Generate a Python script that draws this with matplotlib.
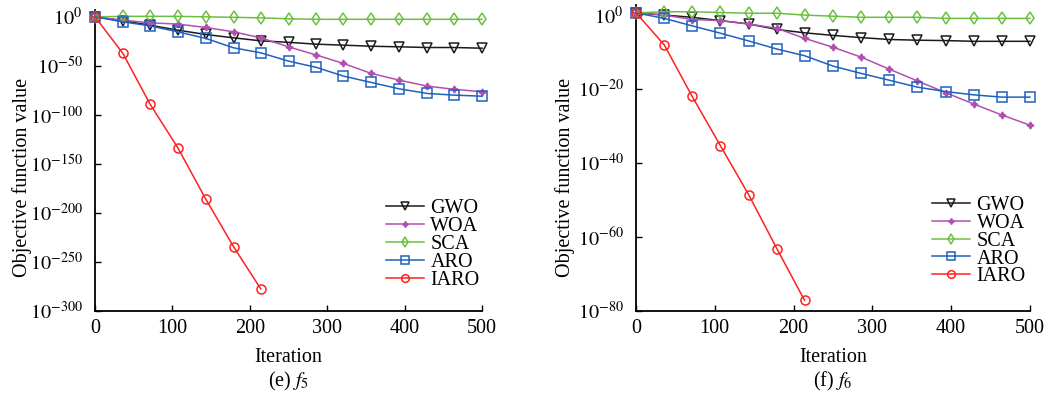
import numpy as np
import matplotlib
matplotlib.use("Agg")
import matplotlib.pyplot as plt

plt.rcParams["font.family"] = ["Liberation Serif", "DejaVu Serif"]
plt.rcParams["mathtext.fontset"] = "stix"

# iterations where markers are drawn
iters = [0, 36, 71, 107, 143, 179, 214, 250, 286, 321, 357, 393, 429, 464, 500]
iters_iaro = [0, 36, 71, 107, 143, 179, 214]

# ---- (e) f5 : log10 of objective value ----
f5_gwo = [0, -4, -8.5, -13.6, -18, -21.4, -24.5, -26, -27.9, -28.9, -30, -30.6, -31.3, -31.3, -32]
f5_woa = [0, -3.4, -6.1, -7.4, -10.8, -15.3, -21.4, -30.6, -39, -47.6, -57.8, -64.6, -70.7, -74, -76.5]
f5_sca = [0, 0.5, 0.5, 0.5, 0, -0.5, -1, -2, -2.5, -2.5, -2.5, -2.5, -2.5, -2.5, -2.5]
f5_aro = [0, -5.1, -9.2, -15.3, -22, -31.6, -36.7, -45.2, -51.6, -60.5, -67, -73.5, -78.2, -79.9, -81]
f5_iaro = [0, -37.3, -89, -133.7, -186, -234.7, -277.6]

# ---- (f) f6 ----
f6_gwo = [0.6, 0, -0.6, -1.5, -2.4, -3.9, -4.8, -5.5, -6.1, -6.6, -6.8, -6.9, -7.1, -7.1, -7.1]
f6_woa = [0.6, 0, -1.2, -1.5, -2.4, -3.6, -6.3, -8.7, -11.4, -14.6, -17.8, -21, -24.1, -27, -29.8]
f6_sca = [0.6, 0.9, 0.9, 0.7, 0.5, 0.5, 0, -0.3, -0.6, -0.6, -0.6, -0.9, -0.9, -0.9, -0.9]
f6_aro = [0.6, -0.9, -2.9, -4.9, -7, -9.2, -11, -13.8, -15.8, -17.6, -19.5, -20.7, -21.6, -22.2, -22.2]
f6_iaro = [0.6, -8.1, -21.9, -35.3, -48.6, -63.3, -77.2]

f5_yticks = [0, -50, -100, -150, -200, -250, -300]
f6_yticks = [0, -20, -40, -60, -80]

names = ["GWO", "WOA", "SCA", "ARO", "IARO"]
colors = ["#1a1a1a", "#b050b0", "#6cc040", "#2060c0", "#ff2020"]
markers = ["v", (4, 1, 0), "d", "s", "o"]

fig = plt.figure(figsize=(10.5, 3.95), dpi=100)
ax1 = fig.add_axes([0.0905, 0.2134, 0.3686, 0.7613])
ax2 = fig.add_axes([0.6057, 0.2134, 0.3752, 0.7737])


def draw(ax, series, ylim, yticks, leg_anchor):
    for (xs, ys), name, c, m in zip(series, names, colors, markers):
        filled = name == "WOA"
        ax.plot(xs, [10.0 ** v for v in ys], color=c, lw=1.1, marker=m,
                ms=5 if filled else 6.5, mfc=c if filled else "none",
                mec=c, mew=1.1, label=name, clip_on=False, zorder=3)
    ax.set_yscale("log")
    ax.set_ylim(10.0 ** ylim[0], 10.0 ** ylim[1])
    ax.set_xlim(0, 500)
    ax.set_xticks([0, 100, 200, 300, 400, 500])
    ax.set_yticks([10.0 ** t for t in yticks])
    ax.set_yticklabels([r"$10^{%d}$" % t for t in yticks])
    ax.minorticks_off()
    ax.tick_params(direction="in", labelsize=14.5, length=4.5, width=1)
    ax.tick_params(axis="y", pad=9)
    ax.tick_params(axis="x", pad=6)
    for s in ["top", "right"]:
        ax.spines[s].set_visible(False)
    for s in ["left", "bottom"]:
        ax.spines[s].set_linewidth(1.3)
    ax.legend(loc="lower right", bbox_to_anchor=leg_anchor, frameon=False,
              fontsize=14.5, handlelength=1.9, handletextpad=0.3,
              labelspacing=-0.06, borderpad=0.1, markerscale=0.85)


draw(ax1, [(iters, f5_gwo), (iters, f5_woa), (iters, f5_sca), (iters, f5_aro),
           (iters_iaro, f5_iaro)], (-300, 7), f5_yticks, (1.025, 0.03))
draw(ax2, [(iters, f6_gwo), (iters, f6_woa), (iters, f6_sca), (iters, f6_aro),
           (iters_iaro, f6_iaro)], (-80, 2.7), f6_yticks, (1.02, 0.04))

fig.text(0.2748, 0.094, "Iteration", ha="center", va="center", fontsize=14.5)
fig.text(0.7933, 0.094, "Iteration", ha="center", va="center", fontsize=14.5)
fig.text(0.2748, 0.033, r"(e) $f_5$", ha="center", va="center", fontsize=14.5)
fig.text(0.7933, 0.033, r"(f) $f_6$", ha="center", va="center", fontsize=14.5)
fig.text(0.021, 0.55, "Objective function value", rotation=90,
         ha="center", va="center", fontsize=14.5)
fig.text(0.538, 0.55, "Objective function value", rotation=90,
         ha="center", va="center", fontsize=14.5)

fig.savefig("out.png", dpi=100)
